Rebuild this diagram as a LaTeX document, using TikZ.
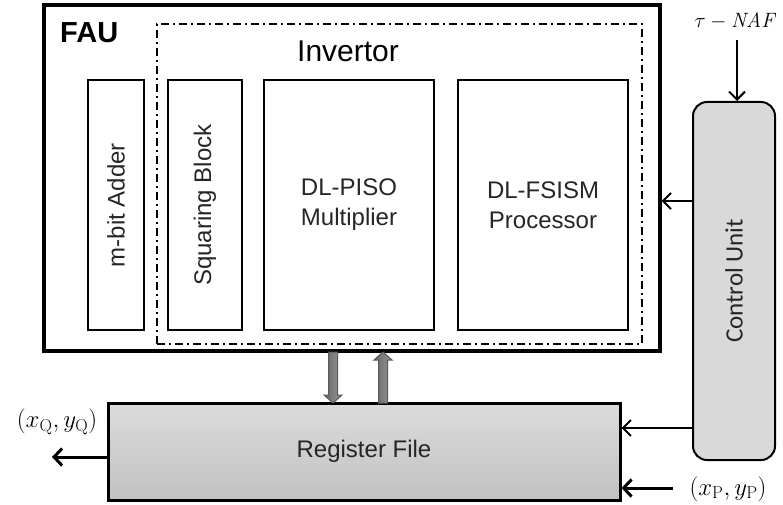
\documentclass[tikz,border=0pt]{standalone}
\usepackage[no-math]{fontspec}
\setmainfont{Liberation Sans}
\newfontfamily\calib{Carlito}
\usetikzlibrary{arrows.meta,calc}
\tikzset{
  blk/.style={draw=black, line width=2.6pt, fill=white, inner sep=0pt},
  lbl/.style={font=\fontsize{24}{30}\selectfont, align=center, text=black!85},
  carr/.style={draw=black, line width=2pt, -{Straight Barb[length=8pt,width=16pt,line width=2pt]}},
  marr/.style={draw=black, line width=3pt, -{Straight Barb[length=8pt,width=17pt,line width=3pt]}},
  mlbl/.style={font=\fontsize{23}{28}\selectfont, inner sep=0pt},
  barr/.style={draw=black!65, line width=1pt, left color=black!60, right color=black!40},
}
\begin{document}
\begin{tikzpicture}[x=1pt,y=-1pt]
\useasboundingbox (0,0) rectangle (783,505);
% FAU box
\node[draw=black, line width=3.2pt, minimum width=616pt, minimum height=346pt] (fau) at (352,178) {};
\node[font=\fontsize{29}{34}\selectfont\bfseries, anchor=base west, inner sep=0pt] (faulbl) at (60,43) {FAU};
% Invertor dash-dot
\node[draw=black, line width=2pt, dash pattern=on 8pt off 4pt on 2pt off 4pt, minimum width=485pt, minimum height=320pt] (inv) at (399.5,184) {};
\node[font=\fontsize{30}{36}\selectfont, anchor=base west, inner sep=0pt] (invlbl) at (297,62) {Invertor};
% inner blocks
\node[blk, minimum width=56pt, minimum height=250pt] (add) at (116,205) {};
\node[lbl, rotate=90] (addt) at (add.center) {m-bit Adder};
\node[blk, minimum width=74pt, minimum height=250pt] (sq) at (205,205) {};
\node[lbl, rotate=90] (sqt) at (sq.center) {Squaring Block};
\node[blk, minimum width=170pt, minimum height=250pt, lbl] (piso) at (349,205) {DL-PISO\\Multiplier};
\node[blk, minimum width=170pt, minimum height=250pt, lbl] (fsism) at (543,205) {DL-FSISM\\Processor};
% Control unit
\node[draw=black, line width=2pt, fill=black!15, rounded corners=14pt, minimum width=82pt, minimum height=358pt] (cu) at (734,281) {};
\node[font=\calib\fontsize{25}{30}\selectfont, rotate=90, text=black!85] (cut) at (cu.center) {Control Unit};
% Register file
\node[draw=black, line width=3pt, top color=black!14, bottom color=black!24, minimum width=512pt, minimum height=97pt, lbl] (rf) at (364,451.5) {Register File};
% labels
\node[font=\fontsize{21}{26}\selectfont, inner sep=0pt] (tau) at (736,21) {$\tau - \mathit{NAF}$};
\node[mlbl] (xq) at (57,422) {$(x_{\mathrm{Q}}, y_{\mathrm{Q}})$};
\node[mlbl] (xp) at (728,489) {$(x_{\mathrm{P}}, y_{\mathrm{P}})$};
% helper coordinates
\coordinate (ya) at (0,201);
\coordinate (yb) at (0,428);
\coordinate (yc) at (0,457);
\coordinate (yd) at (0,488);
\coordinate (qend) at (52,457);
\coordinate (pstart) at (673,488);
\coordinate (taus) at (737,40);
% connectors
\draw[carr] (taus) -- (cu.north -| taus);
\draw[carr] (cu.west |- ya) -- (fau.east |- ya);
\draw[carr] (cu.west |- yb) -- (rf.east |- yb);
\draw[marr] (pstart) -- (rf.east |- yd);
\draw[marr] (rf.west |- yc) -- (qend);
% block arrows between FAU and RF
\coordinate (da) at (333,352);
\coordinate (db) at (333,403);
\coordinate (ua) at (383,403);
\coordinate (ub) at (383,352);
\path[barr] ($(da)+(-4.5,0)$) -- ($(db)+(-4.5,-8)$) -- ($(db)+(-9,-8)$) -- (db) -- ($(db)+(9,-8)$) -- ($(db)+(4.5,-8)$) -- ($(da)+(4.5,0)$) -- cycle;
\path[barr] ($(ua)+(-4.5,0)$) -- ($(ub)+(-4.5,8)$) -- ($(ub)+(-9,8)$) -- (ub) -- ($(ub)+(9,8)$) -- ($(ub)+(4.5,8)$) -- ($(ua)+(4.5,0)$) -- cycle;
\end{tikzpicture}
\end{document}
